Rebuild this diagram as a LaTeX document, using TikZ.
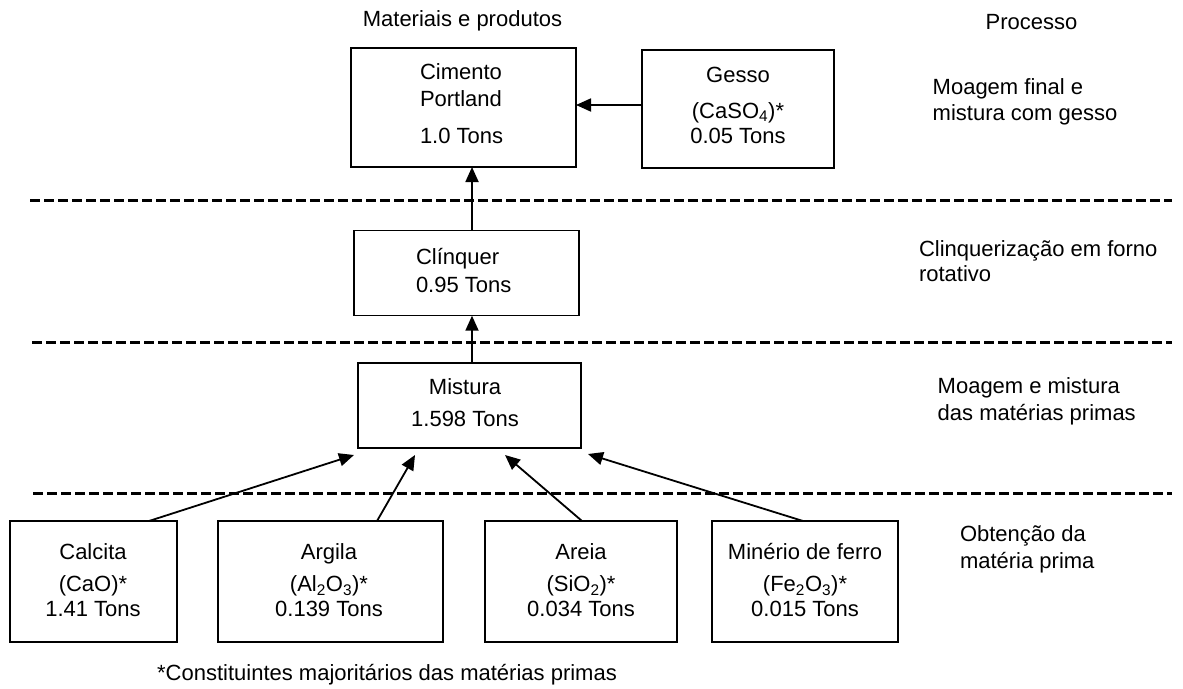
\documentclass[tikz,border=0pt]{standalone}
\usepackage{fontspec}
\setmainfont{Liberation Sans}
\usetikzlibrary{arrows.meta,calc}

\begin{document}
\begin{tikzpicture}[x=1pt,y=-1pt,
  every node/.style={inner sep=0pt,outer sep=0pt},
  txt/.style={font=\fontsize{22}{27}\selectfont},
  box/.style n args={2}{draw,line width=1.5pt,rectangle,minimum width=#1,minimum height=#2},
  arr/.style={line width=1.8pt,-{Triangle[length=15pt,width=13pt]}},
  sep/.style={line width=3pt,dash pattern=on 10pt off 4pt}]

\useasboundingbox (0,0) rectangle (1183,688);

% stage separators
\draw[sep] (30,200.7) -- (1172,200.7);
\draw[sep] (32,342.5) -- (1172,342.5);
\draw[sep] (33,493) -- (1172,493);

% column headers
\node[txt,anchor=base] (mat) at (462.5,27) {Materiais e produtos};
\node[txt,anchor=base] (proc) at (1031.5,29) {Processo};

% materials and products (text nodes are anchored at their last baseline)
\node[box={225pt}{119pt}] (cim) at (463.5,107.5) {};
\node[txt,anchor=base west,align=left] (cimt) at (420,143.3) {Cimento\\Portland\\[9.6pt]1.0 Tons};

\node[box={192pt}{118pt}] (ges) at (738,109) {};
\node[txt,anchor=base,align=center] (gest) at (738,143.3) {Gesso\\[8.6pt](CaSO\textsubscript{4})*\\[-2pt]0.05 Tons};

\node[box={225pt}{85pt}] (clq) at (466.5,273.2) {};
\node[txt,anchor=base west,align=left] (clqt) at (416,292.3) {Clínquer\\[1.3pt]0.95 Tons};

\node[box={223pt}{85pt}] (mis) at (469.5,405.5) {};
\node[txt,anchor=base,align=center] (mist) at (465,426.7) {Mistura\\[5.7pt]1.598 Tons};

\node[box={167pt}{121pt}] (cal) at (93.5,581.5) {};
\node[txt,anchor=base,align=center] (calt) at (93,616) {Calcita\\[5.7pt](CaO)*\\[-2.7pt]1.41 Tons};

\node[box={225pt}{121pt}] (arg) at (330.5,581.5) {};
\node[txt,anchor=base,align=center] (argt) at (329,616) {Argila\\[5.7pt](Al\textsubscript{2}O\textsubscript{3})*\\[-2.7pt]0.139 Tons};

\node[box={192pt}{121pt}] (are) at (581,581.5) {};
\node[txt,anchor=base,align=center] (aret) at (581,616) {Areia\\[5.7pt](SiO\textsubscript{2})*\\[-2.7pt]0.034 Tons};

\node[box={186pt}{121pt}] (min) at (805,581.5) {};
\node[txt,anchor=base,align=center] (mint) at (805,616) {Minério de ferro\\[5.7pt](Fe\textsubscript{2}O\textsubscript{3})*\\[-2.7pt]0.015 Tons};

% process descriptions
\node[txt,anchor=base west,align=left] (s1) at (932.7,120.3) {Moagem final e\\[-1pt]mistura com gesso};
\node[txt,anchor=base west,align=left] (s2) at (919,281.7) {Clinquerização em forno\\[-1.3pt]rotativo};
\node[txt,anchor=base west,align=left] (s3) at (937.7,420) {Moagem e mistura\\das matérias primas};
\node[txt,anchor=base west,align=left] (s4) at (960,568.3) {Obtenção da\\matéria prima};

\node[txt,anchor=base] (note) at (387,680) {*Constituintes majoritários das matérias primas};

% flows
\coordinate (mx) at (472,0);
\coordinate (gy) at (0,105);
\draw[arr] (ges.west |- gy) -- (cim.east |- gy);
\draw[arr] (clq.north -| mx) -- (cim.south -| mx);
\draw[arr] (mis.north -| mx) -- (clq.south -| mx);
\draw[arr] ($(cal.north)+(55.5,0)$) -- ($(mis.south west)+(-4,7)$);
\draw[arr] ($(arg.north)+(46.5,0)$) -- ($(mis.south west)+(57,7)$);
\draw[arr] ($(are.north)+(1,0)$) -- ($(mis.south west)+(147,7)$);
\draw[arr] ($(min.north)+(-2,0)$) -- ($(mis.south east)+(7,6)$);
\end{tikzpicture}
\end{document}
